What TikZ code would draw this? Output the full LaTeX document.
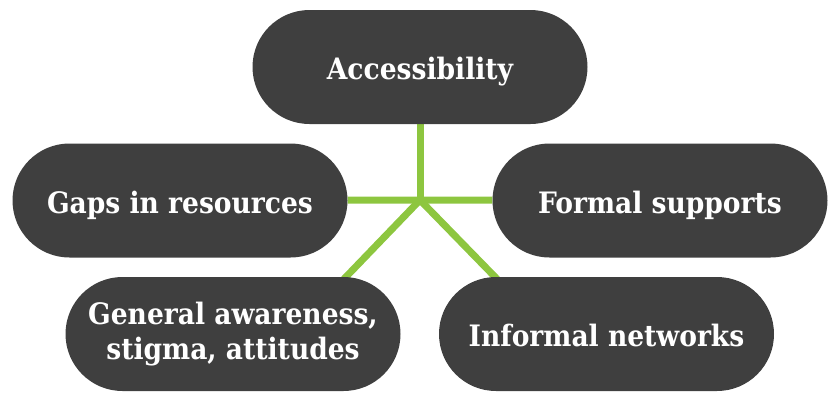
\documentclass[tikz,border=0pt]{standalone}
\usepackage{fontspec}
\setmainfont{DejaVu Serif Condensed}
\usepackage{tikz}
\usetikzlibrary{backgrounds}
\definecolor{pg}{RGB}{63, 63, 63}
\definecolor{lg}{RGB}{141, 198, 63}

\begin{document}
\begin{tikzpicture}[
pill/.style={rectangle, rounded corners=57pt, minimum width=335pt, minimum height=114pt, fill=pg, text=white, font=\fontsize{29.5}{35}\selectfont\bfseries, align=center, inner sep=0pt},
oneline/.style={text height=25pt, text depth=0pt},
link/.style={line width=7pt, color=lg}]
\useasboundingbox (0pt, 0pt) rectangle (833pt, -392pt);
\node (acc) [pill, oneline] at (420.0pt, -67.0pt) {Accessibility};
\node (gaps) [pill, oneline] at (180.0pt, -200.5pt) {Gaps in resources};
\node (formal) [pill, oneline] at (660.0pt, -200.5pt) {Formal supports};
\node (general) [pill] at (233.0pt, -334.0pt) {General awareness,\\stigma, attitudes};
\node (informal) [pill, oneline] at (606.5pt, -334.0pt) {Informal networks};
\coordinate (hub) at (420.0pt, -200.0pt);
\coordinate (genend) at (343.0pt, -280.0pt);
\coordinate (infend) at (498.0pt, -280.0pt);
\begin{scope}[on background layer]
\draw [link] (hub) to (acc);
\draw [link] (hub) to (gaps);
\draw [link] (hub) to (formal);
\draw [link] (hub) to (genend);
\draw [link] (hub) to (infend);
\end{scope}
\end{tikzpicture}
\end{document}
